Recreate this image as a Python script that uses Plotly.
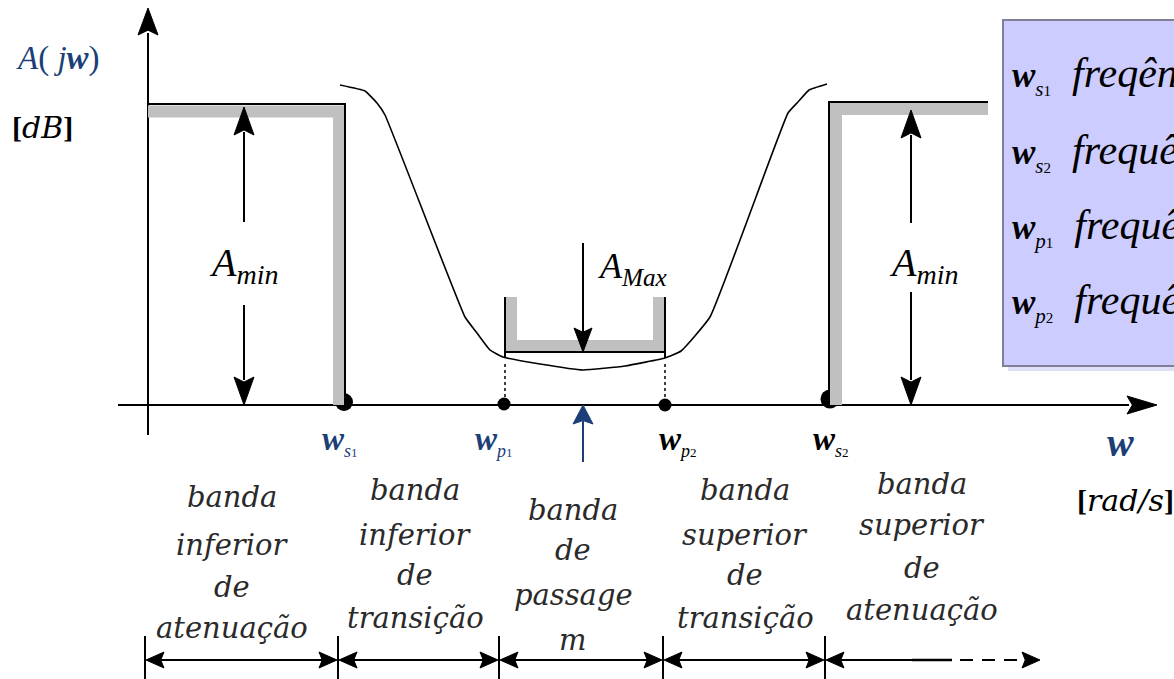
import plotly.graph_objects as go

# ---------------- data (x: frequency units, y: attenuation units above the w axis) -------------
w_s1, w_p1, w_p2, w_s2 = 344, 504, 665, 830          # band-edge frequencies (dots)
w_axis_start, w_axis_end = 118, 1157                  # horizontal axis extent
A_axis_start, A_axis_end = -30, 397                   # vertical axis extent
A_axis_x = 148

A_min_left = 301          # left stop-band level
A_min_right = 303         # right stop-band level
pass_top = 108            # top of pass-band template
A_max_level = 53          # pass-band maximum attenuation level
stop_right_end = 988

curve_w = [340, 365, 377, 385, 465, 477, 490, 503, 540, 583, 625, 665, 681, 710, 788, 798, 809, 827]
curve_A = [320, 314, 302, 290, 88, 72, 55, 48, 41, 35, 39, 47, 54, 88, 292, 303, 315, 321]

band_edges = [145, 338, 499, 663, 825]
band_end = 1040
band_arrow_y = -255
band_labels = [
    ["banda", "inferior", "de", "atenuação"],
    ["banda", "inferior", "de", "transição"],
    ["banda", "de", "passage", "m"],
    ["banda", "superior", "de", "transição"],
    ["banda", "superior", "de", "atenuação"],
]
band_label_x = [232, 415, 573, 745, 922]
band_label_y = [
    [-92, -140, -182, -223],
    [-85, -130, -170, -213],
    [-105, -145, -190, -235],
    [-85, -130, -170, -213],
    [-79, -120, -163, -205],
]

freq_names = [("s", "1"), ("p", "1"), ("p", "2"), ("s", "2")]
freq_label_x = [340, 494, 678, 831]
legend_names = [("s", "1"), ("s", "2"), ("p", "1"), ("p", "2")]
legend_rows_y = [330, 253, 178, 103]
legend_text = ["freqência de rejeição inferior", "frequência de rejeição superior",
               "frequência de passagem inferior", "frequência de passagem superior"]

BLUE = "#1c3f77"
GRAY = "#c0c0c0"
SERIF = "Liberation Serif"
LIGHT = "DejaVu Serif"

fig = go.Figure()
shapes = []
ann = []


def line(x0, y0, x1, y1, color="black", width=2, dash="solid"):
    shapes.append(dict(type="line", x0=x0, y0=y0, x1=x1, y1=y1, xref="x", yref="y",
                       line=dict(color=color, width=width, dash=dash)))


def poly(pts, color, width):
    p = "M" + " L".join(f"{x},{y}" for x, y in pts)
    shapes.append(dict(type="path", path=p, xref="x", yref="y",
                       line=dict(color=color, width=width)))


def head(tx, ty, dx, dy, L, hw, color="black", notch=0.18):
    bx, by = tx - dx * L, ty - dy * L
    px, py = -dy, dx
    nx, ny = tx - dx * L * (1 - notch), ty - dy * L * (1 - notch)
    p = (f"M{tx},{ty} L{bx + px * hw},{by + py * hw} L{nx},{ny} "
         f"L{bx - px * hw},{by - py * hw} Z")
    shapes.append(dict(type="path", path=p, xref="x", yref="y", fillcolor=color,
                       line=dict(color=color, width=1)))


# legend box (behind)
shapes.append(dict(type="rect", x0=1008, x1=1220, y0=34, y1=380, xref="x", yref="y",
                   fillcolor="#dedef6", line=dict(width=0)))
shapes.append(dict(type="rect", x0=1003, x1=1215, y0=39, y1=385, xref="x", yref="y",
                   fillcolor="#ccccff", line=dict(color="#7f7f9a", width=2)))

# axes
line(A_axis_x, A_axis_start, A_axis_x, A_axis_end - 25, width=2)
head(A_axis_x, A_axis_end, 0, 1, 27, 10)
line(w_axis_start, 0, w_axis_end - 28, 0, width=2)
head(w_axis_end, 0, 1, 0, 30, 9)

# stop-band templates
poly([(A_axis_x, A_min_left - 7.5), (339, A_min_left - 7.5), (339, 0)], GRAY, 12)
poly([(A_axis_x, A_min_left), (345, A_min_left), (345, 0)], "black", 2)
poly([(836, 0), (836, A_min_right - 7), (stop_right_end, A_min_right - 7)], GRAY, 12)
poly([(829, 0), (829, A_min_right), (stop_right_end, A_min_right)], "black", 2)

# pass-band template
poly([(511, pass_top), (511, A_max_level + 6), (659, A_max_level + 6), (659, pass_top)], GRAY, 12)
line(505, pass_top, 505, A_max_level - 6)
line(665, pass_top, 665, A_max_level - 6)
line(505, A_max_level, 665, A_max_level)
line(505, A_max_level - 12, 505, 0, width=1.5, dash="dot")
line(665, A_max_level - 12, 665, 0, width=1.5, dash="dot")

# A_min arrows
for ax_x, top, gap_hi, gap_lo in [(244, A_min_left - 3, 183, 100), (911, A_min_right - 8, 182, 113)]:
    line(ax_x, top - 25, ax_x, gap_hi)
    line(ax_x, gap_lo, ax_x, 25)
    head(ax_x, top, 0, 1, 28, 10)
    head(ax_x, 0, 0, -1, 28, 10)

# A_max arrow
line(583, 162, 583, A_max_level + 20)
head(583, A_max_level, 0, -1, 24, 9)

# blue arrow up to the axis
line(583, -57, 583, -16, color=BLUE)
head(583, 0, 0, 1, 19, 10, color=BLUE)

# band bracket
for bx in band_edges:
    line(bx, -231, bx, -274, width=2)
for a_, b_ in zip(band_edges[:-1], band_edges[1:]):
    line(a_ + 10, band_arrow_y, b_ - 10, band_arrow_y)
    head(a_ + 1, band_arrow_y, -1, 0, 18, 8)
    head(b_ - 1, band_arrow_y, 1, 0, 18, 8)
head(band_edges[-1] + 1, band_arrow_y, -1, 0, 18, 8)
line(band_edges[-1] + 10, band_arrow_y, 912, band_arrow_y)
line(912, band_arrow_y, 952, band_arrow_y, width=2.5)
line(960, band_arrow_y, band_end - 16, band_arrow_y, dash="13px,9px")
head(band_end, band_arrow_y, 1, 0, 18, 8)

# attenuation curve
fig.add_trace(go.Scatter(x=curve_w, y=curve_A, mode="lines",
                         line=dict(color="black", width=1.6, shape="spline", smoothing=0.35),
                         hoverinfo="skip", showlegend=False))

# dots on the axis
fig.add_trace(go.Scatter(x=[w_s1, w_p1, w_p2, w_s2], y=[3, 1, 0, 6], mode="markers",
                         marker=dict(color="black", size=[18, 13, 13, 19], opacity=1,
                                     line=dict(width=0)),
                         hoverinfo="skip", showlegend=False))


def a(x, y, text, size, color="black", family=SERIF, xanchor="center", yanchor="middle"):
    ann.append(dict(x=x, y=y, xref="x", yref="y", text=text, showarrow=False,
                    font=dict(size=size, color=color, family=family),
                    xanchor=xanchor, yanchor=yanchor))


def wsub(sub, num, s_size, n_size, w_size=None):
    w = "<b><i>w</i></b>"
    if w_size:
        w = f"<span style='font-size:{w_size}px'>{w}</span>"
    return (f"{w}<sub><span style='font-size:{s_size}px'><i>{sub}</i></span>"
            f"<span style='font-size:{n_size}px'>{num}</span></sub>")


# frequency labels under axis
for (sub, num), fx, col in zip(freq_names, freq_label_x, [BLUE, BLUE, "black", "black"]):
    a(fx, -36, wsub(sub, num, 18, 13), 33, col)

# axis labels
a(58, 347, "<i>A</i>( <i>j</i><b><i>w</i></b>)", 33, BLUE)
a(42, 278, f"<b>[</b><span style='font-family:{LIGHT}'><i>dB</i></span><b>]</b>", 30)
a(1120, -37, "<b><i>w</i></b>", 40, BLUE)
a(1125, -95, f"<b>[</b><span style='font-family:{LIGHT}'><i>rad/s</i></span><b>]</b>", 30)

# A_min / A_max labels
a(243, 140, "<i>A</i><sub><i>min</i></sub>", 40)
a(923, 140, "<i>A</i><sub><i>min</i></sub>", 40)
a(632, 137, "<i>A</i><sub><i>Max</i></sub>", 36)

# band labels
for words, bx, ys in zip(band_labels, band_label_x, band_label_y):
    for wd, yy in zip(words, ys):
        a(bx, yy, f"<i>{wd}</i>", 29, "#2a2a2a", LIGHT)

# legend rows
for (sub, num), yy, txt in zip(legend_names, legend_rows_y, legend_text):
    a(1010, yy, wsub(sub, num, 21, 15, 35) + f"  <i>{txt}</i>", 42, xanchor="left")

fig.update_layout(
    width=1174, height=679, margin=dict(l=0, r=0, t=0, b=0),
    paper_bgcolor="white", plot_bgcolor="white",
    xaxis=dict(range=[0, 1174], visible=False, fixedrange=True),
    yaxis=dict(range=[-274, 405], visible=False, fixedrange=True),
    shapes=shapes, annotations=ann, showlegend=False,
)

fig.write_html("out.html", config={"displayModeBar": False},
               post_script="document.body.style.margin='0';document.body.style.overflow='hidden';")
